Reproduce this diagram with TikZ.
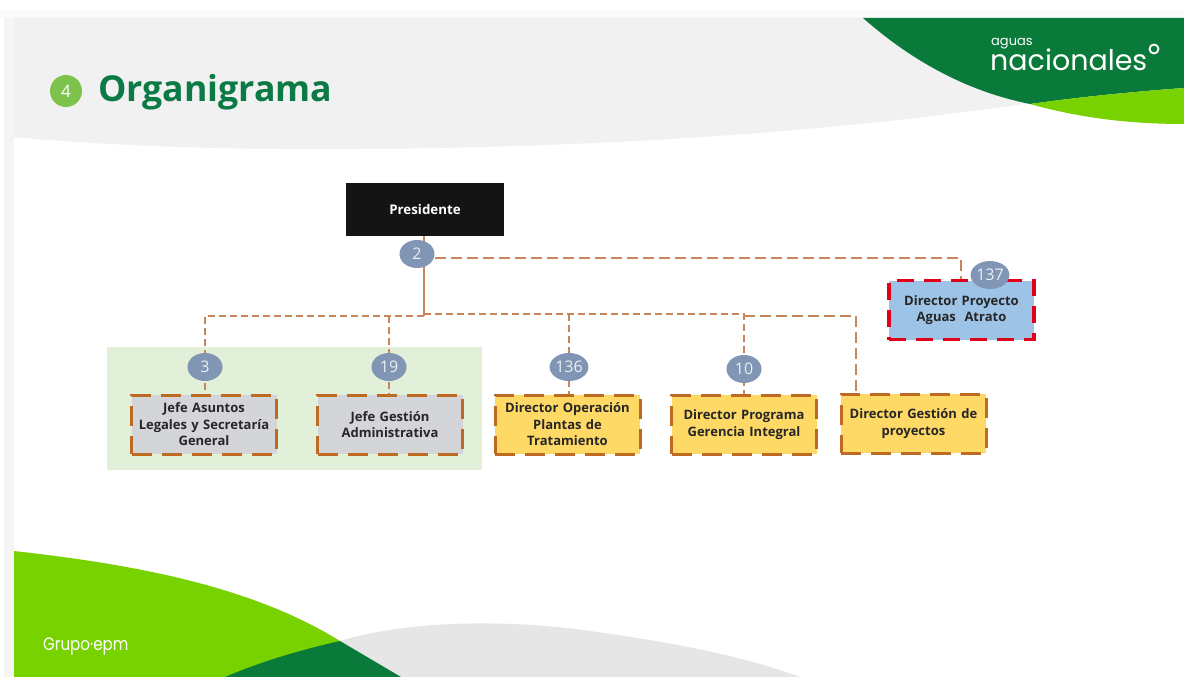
\documentclass[tikz,border=0pt]{standalone}
\usepackage{fontspec}
\setmainfont{Open Sans}[BoldFont={Open Sans Bold}]
\newfontfamily\logofont{Poppins}
\pgfdeclarelayer{panel}
\pgfdeclarelayer{wires}
\pgfsetlayers{panel,wires,main}
\definecolor{dkgreen}{HTML}{0A7A3A}
\definecolor{ltgreen}{HTML}{78D200}
\definecolor{titlegreen}{HTML}{0B7A45}
\definecolor{numgreen}{HTML}{7DC24B}
\definecolor{topgrey}{HTML}{F1F1F2}
\definecolor{edgegrey}{HTML}{F5F5F5}
\definecolor{lowgrey}{HTML}{E6E6E6}
\definecolor{panelgreen}{HTML}{E2EFD9}
\definecolor{badge}{HTML}{8096B4}
\definecolor{wire}{HTML}{C8845A}
\definecolor{boxedge}{HTML}{BE6A22}
\definecolor{greyfill}{HTML}{D3D5D8}
\definecolor{yellowfill}{HTML}{FFD966}
\definecolor{bluefill}{HTML}{9DC3E6}
\definecolor{redge}{HTML}{E0001B}
\tikzset{
  x=1pt,y=-1pt,
  orgbox/.style={draw=boxedge,line width=3pt,dash pattern=on 20pt off 10pt,align=center,
    minimum width=145pt,minimum height=59pt,inner sep=0pt,text width=143pt,
    font=\fontsize{13}{16.5}\selectfont\bfseries,text=black!85},
  greybox/.style={orgbox,fill=greyfill},
  yellowbox/.style={orgbox,fill=yellowfill},
  bluebox/.style={orgbox,fill=bluefill,draw=redge,line width=3.6pt,dash pattern=on 17pt off 10pt},
  badgenode/.style={ellipse,fill=badge,minimum width=35pt,minimum height=28pt,inner sep=0pt,
    text=white!85!badge,font=\fontsize{16}{16}\selectfont},
  conn/.style={draw=wire,line width=1.4pt,dash pattern=on 7pt off 4pt},
  connlong/.style={draw=wire,line width=1.4pt,dash pattern=on 11pt off 5pt},
}
\usetikzlibrary{shapes.geometric}
\begin{document}
\begin{tikzpicture}
\useasboundingbox (0,0) rectangle (1184,677);
\begin{pgfonlayer}{panel}
  \fill[white] (0,0) rectangle (1184,677);
  \fill[edgegrey!50] (0,10) rectangle (1184,18);
  \fill[edgegrey] (4,18) rectangle (14,677);
  \fill[topgrey] (14,18) -- (870,18) -- (1030,103)
     .. controls (860,128) and (640,147) .. (360,149)
     .. controls (230,150) and (110,146) .. (14,137) -- cycle;
  \fill[dkgreen] (863,18) -- (1184,18) -- (1184,88)
     .. controls (1130,92) and (1080,97) .. (1030,104)
     .. controls (960,90) and (905,55) .. (863,18) -- cycle;
  \fill[ltgreen] (1030,104) .. controls (1080,97) and (1130,92) .. (1184,88)
     -- (1184,124) .. controls (1130,124) and (1080,118) .. (1030,104) -- cycle;
  \fill[lowgrey] (340,641) .. controls (400,622) and (500,618) .. (590,631)
     .. controls (670,642) and (740,655) .. (800,677) -- (400,677) -- cycle;
  \fill[ltgreen] (14,551) .. controls (130,564) and (250,585) .. (340,641)
     -- (225,677) -- (14,677) -- cycle;
  \fill[dkgreen] (340,641) -- (401,677) -- (225,677)
     .. controls (260,662) and (300,650) .. (340,641) -- cycle;
  \fill[panelgreen] (107,347) rectangle (482,470);
\end{pgfonlayer}

\node[fill=numgreen,circle,minimum size=32pt,inner sep=0pt,text=white,
      font=\fontsize{17}{17}\selectfont] (num) at (66,91) {4};
\node[anchor=west,inner sep=0pt,text=titlegreen,font=\fontsize{35.7}{36}\selectfont\bfseries] (title) at (98,92) {Organigrama};
\node[anchor=west,inner sep=0pt,text=white,font=\logofont\fontsize{13}{13}\selectfont] (lg1) at (991,44) {aguas};
\node[anchor=west,inner sep=0pt,text=white,font=\logofont\fontsize{28.5}{29}\selectfont] (lg2) at (990,60) {nacionales};
\node[circle,draw=white,line width=1.8pt,minimum size=9pt,inner sep=0pt] (lg3) at (1154,49) {};
\node[anchor=west,inner sep=0pt,text=white,xscale=.84,transform shape,font=\logofont\fontsize{18}{18}\selectfont] (gr) at (43,646) {Grupo·epm};

\node[fill=black!92,minimum width=158pt,minimum height=53pt,inner sep=0pt,text=white,
      font=\fontsize{13.3}{13.3}\selectfont\bfseries] (pres) at (425,209.5) {Presidente};
\node[greybox] (b3) at (204,424.5) {Jefe Asuntos\\Legales y Secretaría\\General};
\node[greybox] (b19) at (390,424.5) {Jefe Gestión\\Administrativa};
\node[yellowbox] (b136) at (567.5,424.5) {Director Operación\\Plantas de\\Tratamiento};
\node[yellowbox] (b10) at (744,424.5) {Director Programa\\Gerencia Integral};
\node[yellowbox] (bg) at (913.5,423.5) {Director Gestión de\\proyectos};
\node[bluebox] (b137) at (961.5,310) {Director Proyecto\\Aguas\ \ Atrato};
\node[badgenode] (c2) at (417,254) {2};
\node[badgenode] (c3) at (205,367) {3};
\node[badgenode] (c19) at (389,367) {19};
\node[badgenode] (c136) at (569,367) {136};
\node[badgenode] (c10) at (744,369) {10};
\node[badgenode] (c137) at (990,275) {137};

\coordinate (busL) at (424,316);
\coordinate (busR) at (424,314);
\coordinate (topbus) at (961,258);
\coordinate (turn) at (744,316);
\coordinate (gtop) at (856,394);
\begin{pgfonlayer}{wires}
  \draw[draw=wire,line width=1.4pt] (pres.south -| busL) -- (busL);
  \draw[connlong] (c2.east |- topbus) -- (topbus) -- (topbus |- b137.north);
  \draw[conn] (busL) -- (c3.north |- busL) -- (c3.north |- b3.north);
  \draw[conn] (c19.north |- busL) -- (c19.north |- b19.north);
  \draw[conn] (busR) -- (turn |- busR) -- (turn) -- (gtop -| turn);
  \draw[conn] (c136.north |- busR) -- (c136.north |- b136.north);
  \draw[connlong] (turn) -- (gtop |- turn) -- (gtop);
\end{pgfonlayer}
\end{tikzpicture}
\end{document}
